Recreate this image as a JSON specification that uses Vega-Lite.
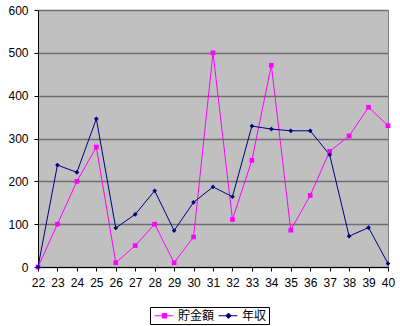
{
  "$schema": "https://vega.github.io/schema/vega-lite/v6.json",
  "width": 350,
  "height": 257,
  "autosize": {"type": "none"},
  "padding": {"left": 38, "top": 10, "right": 12, "bottom": 59},
  "background": "white",
  "config": {
    "view": {"fill": "#C0C0C0", "stroke": "#808080", "strokeWidth": 1},
    "axis": {
      "labelFont": "Liberation Sans",
      "labelFontSize": 12,
      "labelColor": "black",
      "domainColor": "black",
      "tickColor": "black",
      "gridColor": "#6e6e6e",
      "gridWidth": 1.5,
      "tickSize": 4,
      "title": null
    }
  },
  "data": {
    "values": [
      {"age": 22, "series": "貯金額", "value": 0},
      {"age": 23, "series": "貯金額", "value": 100},
      {"age": 24, "series": "貯金額", "value": 200},
      {"age": 25, "series": "貯金額", "value": 280},
      {"age": 26, "series": "貯金額", "value": 10},
      {"age": 27, "series": "貯金額", "value": 50},
      {"age": 28, "series": "貯金額", "value": 100},
      {"age": 29, "series": "貯金額", "value": 10},
      {"age": 30, "series": "貯金額", "value": 70},
      {"age": 31, "series": "貯金額", "value": 500},
      {"age": 32, "series": "貯金額", "value": 111},
      {"age": 33, "series": "貯金額", "value": 249},
      {"age": 34, "series": "貯金額", "value": 471},
      {"age": 35, "series": "貯金額", "value": 86},
      {"age": 36, "series": "貯金額", "value": 167},
      {"age": 37, "series": "貯金額", "value": 270},
      {"age": 38, "series": "貯金額", "value": 306},
      {"age": 39, "series": "貯金額", "value": 373},
      {"age": 40, "series": "貯金額", "value": 330},
      {"age": 22, "series": "年収", "value": 0},
      {"age": 23, "series": "年収", "value": 238},
      {"age": 24, "series": "年収", "value": 221},
      {"age": 25, "series": "年収", "value": 346},
      {"age": 26, "series": "年収", "value": 91},
      {"age": 27, "series": "年収", "value": 123},
      {"age": 28, "series": "年収", "value": 178},
      {"age": 29, "series": "年収", "value": 85},
      {"age": 30, "series": "年収", "value": 151},
      {"age": 31, "series": "年収", "value": 187},
      {"age": 32, "series": "年収", "value": 164},
      {"age": 33, "series": "年収", "value": 329},
      {"age": 34, "series": "年収", "value": 322},
      {"age": 35, "series": "年収", "value": 318},
      {"age": 36, "series": "年収", "value": 318},
      {"age": 37, "series": "年収", "value": 262},
      {"age": 38, "series": "年収", "value": 72},
      {"age": 39, "series": "年収", "value": 92},
      {"age": 40, "series": "年収", "value": 8}
    ]
  },
  "encoding": {
    "x": {
      "field": "age",
      "type": "quantitative",
      "scale": {"domain": [22, 40], "nice": false, "zero": false},
      "axis": {
        "values": [22, 23, 24, 25, 26, 27, 28, 29, 30, 31, 32, 33, 34, 35, 36, 37, 38, 39, 40],
        "grid": false,
        "labelPadding": 6,
        "labelFlush": false
      }
    },
    "y": {
      "field": "value",
      "type": "quantitative",
      "scale": {"domain": [0, 600], "nice": false},
      "axis": {
        "values": [0, 100, 200, 300, 400, 500, 600],
        "grid": true,
        "labelPadding": 6
      }
    },
    "color": {
      "field": "series",
      "type": "nominal",
      "scale": {"domain": ["貯金額", "年収"], "range": ["#FF00FF", "#000080"]},
      "legend": {
        "orient": "none",
        "legendX": 112,
        "legendY": 297,
        "direction": "horizontal",
        "title": null,
        "strokeColor": "black",
        "fillColor": "white",
        "padding": 2,
        "symbolSize": 144,
        "symbolStrokeWidth": 1,
        "columnPadding": 1,
        "labelFont": "Noto Sans CJK JP",
        "labelFontSize": 12,
        "labelColor": "black",
        "labelOffset": 13,
        "encode": {
          "symbols": {
            "update": {
              "shape": {"signal": "datum.value === '貯金額' ? 'M-0.67,0H2.5M0.62,-0.38H1.38V0.38H0.62Z' : 'M-0.67,0H2.5M1,-0.45L1.45,0L1,0.45L0.55,0Z'"},
              "fill": {"scale": "color", "field": "value"},
              "stroke": {"scale": "color", "field": "value"},
              "strokeWidth": {"value": 1},
              "opacity": {"value": 1}
            }
          }
        }
      }
    }
  },
  "layer": [
    {
      "mark": {"type": "line", "strokeWidth": 1},
      "encoding": {"detail": {"field": "series"}}
    },
    {
      "transform": [{"filter": "datum.series === '貯金額'"}],
      "mark": {"type": "point", "filled": true, "size": 22, "opacity": 1, "shape": "square"}
    },
    {
      "transform": [{"filter": "datum.series === '年収'"}],
      "mark": {"type": "point", "filled": true, "size": 22, "opacity": 1, "shape": "diamond"}
    }
  ]
}
